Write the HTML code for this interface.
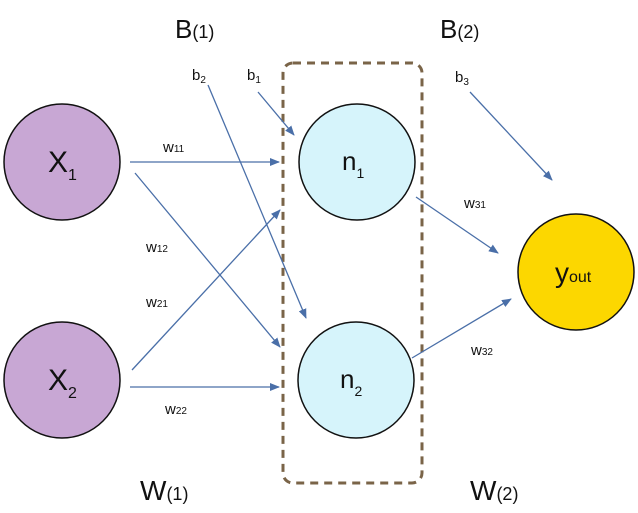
<!DOCTYPE html>
<html><head><style>
body{margin:0;background:#fff;}
svg text{font-family:"Liberation Sans",sans-serif;fill:#111;}
</style></head><body>
<svg width="638" height="508" viewBox="0 0 638 508" xmlns="http://www.w3.org/2000/svg">
<defs><marker id="a" markerWidth="10" markerHeight="10" refX="9" refY="5" orient="auto" markerUnits="userSpaceOnUse"><path d="M0,1 L10,5 L0,9 Z" fill="#4a6fa8"/></marker></defs>
<rect x="283" y="63" width="139" height="420" rx="10" fill="none" stroke="#7a6448" stroke-width="3" stroke-dasharray="8,6"/>
<circle cx="62" cy="162" r="58" fill="#c8a7d4" stroke="#111" stroke-width="1.5"/>
<circle cx="62" cy="380" r="58" fill="#c8a7d4" stroke="#111" stroke-width="1.5"/>
<circle cx="357" cy="162" r="58" fill="#d6f4fb" stroke="#111" stroke-width="1.5"/>
<circle cx="356" cy="380" r="58" fill="#d6f4fb" stroke="#111" stroke-width="1.5"/>
<circle cx="576" cy="272" r="58" fill="#fcd700" stroke="#111" stroke-width="1.5"/>
<g stroke="#4a6fa8" stroke-width="1.3" fill="none" marker-end="url(#a)">
<line x1="130" y1="162" x2="279" y2="162"/>
<line x1="135" y1="173" x2="280" y2="347"/>
<line x1="132" y1="370" x2="280" y2="210"/>
<line x1="130" y1="387" x2="279" y2="387"/>
<line x1="208" y1="85" x2="306" y2="318"/>
<line x1="258" y1="92" x2="294" y2="135"/>
<line x1="470" y1="92" x2="552" y2="180"/>
<line x1="416" y1="197" x2="498" y2="253"/>
<line x1="412" y1="358" x2="511" y2="299"/>
</g>
<text x="48" y="172" font-size="30">X<tspan font-size="16" dy="8">1</tspan></text>
<text x="48" y="390" font-size="30">X<tspan font-size="16" dy="8">2</tspan></text>
<text x="342" y="170" font-size="26">n<tspan font-size="14" dy="8">1</tspan></text>
<text x="340" y="388" font-size="26">n<tspan font-size="14" dy="8">2</tspan></text>
<text x="555" y="282" font-size="28">y<tspan font-size="16">out</tspan></text>
<text x="175" y="38" font-size="26">B<tspan font-size="18">(1)</tspan></text>
<text x="440" y="38" font-size="26">B<tspan font-size="18">(2)</tspan></text>
<text x="140" y="500" font-size="28">W<tspan font-size="18">(1)</tspan></text>
<text x="470" y="500" font-size="28">W<tspan font-size="18">(2)</tspan></text>
<g font-size="15">
<text x="192" y="80">b<tspan font-size="10" dy="3">2</tspan></text>
<text x="247" y="80">b<tspan font-size="10" dy="3">1</tspan></text>
<text x="455" y="82">b<tspan font-size="10" dy="3">3</tspan></text>
<text x="163" y="152">w<tspan font-size="10">11</tspan></text>
<text x="146" y="252">w<tspan font-size="10">12</tspan></text>
<text x="146" y="307">w<tspan font-size="10">21</tspan></text>
<text x="165" y="414">w<tspan font-size="10">22</tspan></text>
<text x="464" y="208">w<tspan font-size="10">31</tspan></text>
<text x="471" y="355">w<tspan font-size="10">32</tspan></text>
</g>
</svg>
</body></html>
